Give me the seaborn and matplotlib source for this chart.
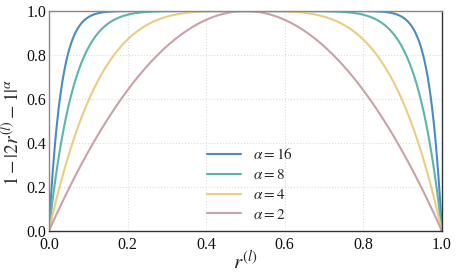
import numpy as np
import pandas as pd
import matplotlib
matplotlib.use("Agg")
import matplotlib.pyplot as plt
import seaborn as sns

# exponents shown in the legend, with their colours
alphas = [16, 8, 4, 2]
colors = ["#4a8cc2", "#5cb5a8", "#e8cd84", "#c9a2a6"]
x_ticks = [0.0, 0.2, 0.4, 0.6, 0.8, 1.0]
y_ticks = [0.0, 0.2, 0.4, 0.6, 0.8, 1.0]

# curve as given in the y label: 1 - |2r - 1|^alpha
r = np.linspace(0, 1, 801)
frames = []
for a in alphas:
    frames.append(pd.DataFrame({"r": r, "y": 1 - np.abs(2 * r - 1) ** a,
                                "alpha": rf"$\alpha = {a}$"}))
df = pd.concat(frames, ignore_index=True)

sns.set_style("white")
plt.rcParams["font.family"] = ["Liberation Serif", "DejaVu Serif"]
plt.rcParams["mathtext.fontset"] = "stix"

fig, ax = plt.subplots(figsize=(4.57, 2.76), dpi=100)
sns.lineplot(data=df, x="r", y="y", hue="alpha", palette=colors,
             linewidth=1.5, ax=ax)

ax.set_xlim(0, 1)
ax.set_ylim(0, 1)
ax.set_xticks(x_ticks)
ax.set_yticks(y_ticks)
ax.minorticks_on()
ax.tick_params(which="both", direction="in", labelsize=11.5, color="#444444",
               labelcolor="#111111")
ax.tick_params(axis="x", pad=4)
ax.tick_params(axis="y", pad=2)
ax.tick_params(which="major", length=3.5)
ax.tick_params(which="minor", length=2)
ax.grid(True, which="major", linestyle=":", color="#dddddd", linewidth=0.8)
for s in ["left", "top"]:
    ax.spines[s].set_color("#888888")
for s in ["right", "bottom"]:
    ax.spines[s].set_color("#333333")
for s in ax.spines.values():
    s.set_linewidth(1.0)

ax.set_xlabel(r"$r^{(l)}$", fontsize=15, labelpad=-1)
ax.set_ylabel(r"$1 - |2r^{(l)} - 1|^{\alpha}$", fontsize=14)
ax.yaxis.set_label_coords(-0.065, 0.45)

leg = ax.legend(loc="lower left", bbox_to_anchor=(0.368, -0.02), frameon=False,
                fontsize=11, handlelength=2.2, labelspacing=0.38)

fig.subplots_adjust(left=0.107, right=0.967, top=0.96, bottom=0.163)
fig.savefig("out.png", dpi=100)
